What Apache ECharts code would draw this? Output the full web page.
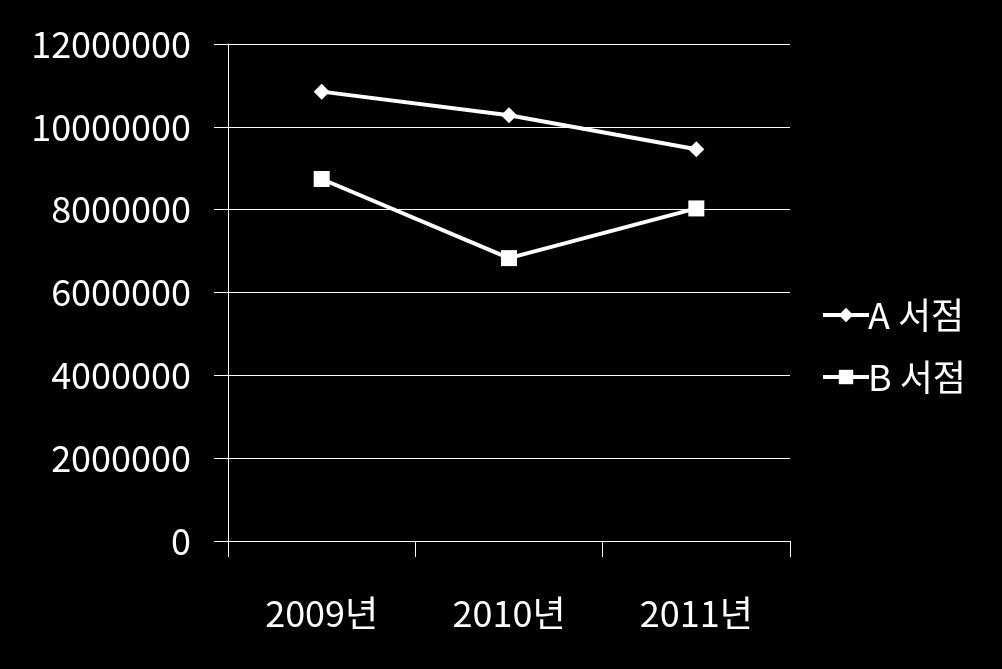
<!DOCTYPE html>
<html><head><meta charset="utf-8">
<script src="https://cdn.jsdelivr.net/npm/echarts@6/dist/echarts.min.js"></script>
<style>html,body{margin:0;padding:0;background:#000;}#c{width:1002px;height:669px;}</style>
</head><body><div id="c"></div>
<script>
const categories = ['2009년', '2010년', '2011년'];
const seriesNames = ['A 서점', 'B 서점'];
const storeA = [10850000, 10280000, 9460000];
const storeB = [8740000, 6830000, 8030000];
const yTicks = { min: 0, max: 12000000, interval: 2000000 };

const font = '"Noto Sans CJK KR", "Noto Sans", sans-serif';
const chart = echarts.init(document.getElementById('c'));
chart.setOption({
  backgroundColor: '#000',
  animation: false,
  grid: { left: 228, right: 212, top: 44, bottom: 128 },
  legend: {
    orient: 'vertical', left: 816, top: 292, itemGap: 26,
    itemWidth: 46, itemHeight: 18,
    lineStyle: { width: 4 },
    textStyle: { color: '#fff', fontSize: 36, fontFamily: font, padding: [0, 0, 0, -6] },
    data: seriesNames
  },
  xAxis: {
    type: 'category', data: categories, boundaryGap: true,
    axisLine: { show: true, lineStyle: { color: '#fff', width: 1 } },
    axisTick: { show: true, length: 16, lineStyle: { color: '#fff' } },
    axisLabel: { color: '#fff', fontSize: 36, fontFamily: font, margin: 54 },
    splitLine: { show: false }
  },
  yAxis: {
    type: 'value', min: yTicks.min, max: yTicks.max, interval: yTicks.interval,
    axisLine: { show: true, lineStyle: { color: '#fff', width: 1 } },
    axisTick: { show: true, length: 14, lineStyle: { color: '#fff' } },
    axisLabel: { color: '#fff', fontSize: 36, fontFamily: font, margin: 37,
      formatter: v => String(v) },
    splitLine: { show: true, lineStyle: { color: '#fff', width: 1 } }
  },
  series: [
    {
      name: seriesNames[0], type: 'line', data: storeA,
      symbol: 'diamond', symbolSize: 16,
      lineStyle: { color: '#fff', width: 4 },
      itemStyle: { color: '#fff' }
    },
    {
      name: seriesNames[1], type: 'line', data: storeB,
      symbol: 'rect', symbolSize: 16,
      lineStyle: { color: '#fff', width: 4 },
      itemStyle: { color: '#fff' }
    }
  ]
});
</script>
</body></html>
